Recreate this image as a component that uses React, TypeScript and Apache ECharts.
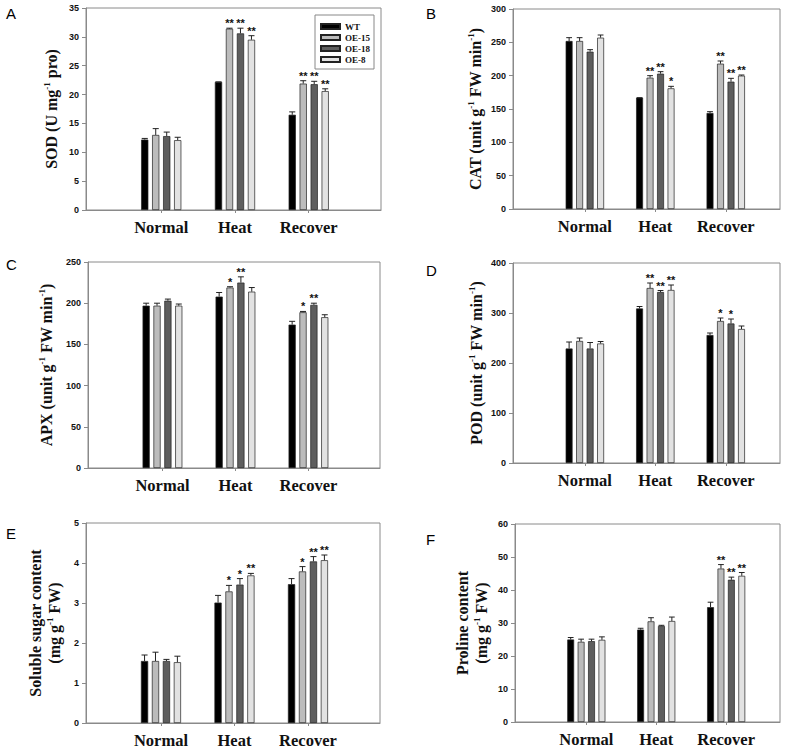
import React, { useEffect, useRef } from 'react';
import * as echarts from 'echarts';

const categories = ['Normal', 'Heat', 'Recover'];
const lines = ['WT', 'OE-15', 'OE-18', 'OE-8'];
const barColors = ['#000000', '#bcbcbc', '#5e5e5e', '#e2e2e2'];

// rows: WT, OE-15, OE-18, OE-8 ; columns: Normal, Heat, Recover
const sodMeans = [[12.2, 22.2, 16.5], [13.0, 31.4, 21.9], [12.8, 30.6, 21.8], [12.1, 29.5, 20.6]];
const sodErrs = [[0.2, 0.0, 0.5], [1.1, 0.1, 0.5], [0.7, 0.9, 0.5], [0.5, 0.7, 0.4]];
const sodStars = [['', '', ''], ['', '**', '**'], ['', '**', '**'], ['', '**', '**']];

const catMeans = [[252, 167, 144], [252, 197, 218], [236, 203, 191], [257, 181, 200]];
const catErrs = [[5, 0, 2], [5, 3, 4], [3, 3, 5], [4, 3, 1]];
const catStars = [['', '', ''], ['', '**', '**'], ['', '**', '**'], ['', '*', '**']];

const apxMeans = [[197, 208, 174], [197, 219, 189], [203, 225, 198], [197, 214, 183]];
const apxErrs = [[3, 5, 4], [3, 1, 1], [2, 7, 2], [2, 5, 3]];
const apxStars = [['', '', ''], ['', '*', '*'], ['', '**', '**'], ['', '', '']];

const podMeans = [[229, 309, 256], [244, 350, 284], [229, 342, 279], [239, 346, 268]];
const podErrs = [[13, 4, 4], [6, 10, 6], [12, 3, 9], [4, 10, 6]];
const podStars = [['', '', ''], ['', '**', '*'], ['', '**', '*'], ['', '**', '']];

const sugarMeans = [[1.55, 3.01, 3.47], [1.55, 3.29, 3.79], [1.55, 3.46, 4.04], [1.52, 3.69, 4.07]];
const sugarErrs = [[0.15, 0.18, 0.14], [0.22, 0.15, 0.12], [0.04, 0.15, 0.12], [0.15, 0.05, 0.13]];
const sugarStars = [['', '', ''], ['', '*', '*'], ['', '*', '**'], ['', '**', '**']];

const prolineMeans = [[25.0, 28.0, 34.8], [24.3, 30.5, 46.5], [24.5, 29.1, 43.1], [24.9, 30.6, 44.3]];
const prolineErrs = [[0.6, 0.4, 1.5], [0.8, 1.1, 1.2], [0.6, 0.2, 0.8], [0.9, 1.2, 1.0]];
const prolineStars = [['', '', ''], ['', '', '**'], ['', '', '**'], ['', '', '**']];

const yMaxes = [35, 300, 250, 400, 5, 60];
const yIntervals = [5, 50, 50, 100, 1, 10];
const panelLetters = ['A', 'B', 'C', 'D', 'E', 'F'];
const yTitles = [
  '{t|SOD (U mg}{s|-1}{t| pro)}',
  '{t|CAT (unit g}{s|-1}{t| FW min}{s|-1}{t|)}',
  '{t|APX (unit g}{s|-1}{t| FW min}{s|-1}{t|)}',
  '{t|POD (unit g}{s|-1}{t| FW min}{s|-1}{t|)}',
  '{t|Soluble sugar content}\n{t|(mg g}{s|-1}{t| FW)}',
  '{t|Proline content}\n{t|(mg g}{s|-1}{t| FW)}',
];

const SERIF = "'Liberation Serif', 'Times New Roman', serif";
const SANS = "'Liberation Sans', Arial, sans-serif";
const FRAME = '#8a8a8a';

// layout (pixels)
const layout = [
  { left: 86, top: 8, width: 295, height: 202, xmin: -0.02, xmax: 3.98, gap: 25, lx: 6, ly: 6 },
  { left: 513, top: 9, width: 267, height: 200, xmin: -0.02, xmax: 3.77, gap: 28, lx: 426, ly: 6 },
  { left: 88, top: 262, width: 292, height: 206, xmin: -0.02, xmax: 3.98, gap: 32, lx: 6, ly: 257 },
  { left: 513, top: 263, width: 267, height: 200, xmin: -0.02, xmax: 3.77, gap: 27, lx: 426, ly: 263 },
  { left: 86, top: 523, width: 294, height: 200, xmin: -0.02, xmax: 3.98, gap: 22, lx: 6, ly: 526 },
  { left: 515, top: 524, width: 265, height: 198, xmin: -0.02, xmax: 3.77, gap: 24, lx: 426, ly: 532 },
];

const BAR_FRAC = 0.098;
const GAP_FRAC = 0.52;

const panelsData = [
  { means: sodMeans, errs: sodErrs, stars: sodStars },
  { means: catMeans, errs: catErrs, stars: catStars },
  { means: apxMeans, errs: apxErrs, stars: apxStars },
  { means: podMeans, errs: podErrs, stars: podStars },
  { means: sugarMeans, errs: sugarErrs, stars: sugarStars },
  { means: prolineMeans, errs: prolineErrs, stars: prolineStars },
];

function buildOption() {
  const grid: any[] = [];
  const xAxis: any[] = [];
  const yAxis: any[] = [];
  const series: any[] = [];
  const graphic: any[] = [];

  panelsData.forEach((p, gi) => {
    const L = layout[gi];
    grid.push({
      left: L.left, top: L.top, width: L.width, height: L.height,
      show: true, borderColor: FRAME, borderWidth: 1, backgroundColor: 'transparent',
    });
    xAxis.push({
      type: 'value', gridIndex: gi, min: L.xmin, max: L.xmax,
      axisLine: { show: true, onZero: false, lineStyle: { color: FRAME, width: 1 } },
      axisTick: { show: true, customValues: [1, 2, 3], length: 3, lineStyle: { color: FRAME } },
      axisLabel: {
        show: true, customValues: [1, 2, 3],
        formatter: (v: number) => categories[Math.round(v) - 1] ?? '',
        fontFamily: SERIF, fontWeight: 'bold', fontSize: 16.5, color: '#111', margin: 9,
      },
      splitLine: { show: false },
    });
    yAxis.push({
      type: 'value', gridIndex: gi, min: 0, max: yMaxes[gi], interval: yIntervals[gi],
      axisLine: { show: true, onZero: false, lineStyle: { color: FRAME, width: 1 } },
      axisTick: { show: true, length: 4, lineStyle: { color: FRAME } },
      axisLabel: { fontFamily: SANS, fontWeight: 'bold', fontSize: 9, color: '#111', margin: 7 },
      splitLine: { show: false },
      name: yTitles[gi], nameLocation: 'middle', nameGap: L.gap,
      nameTextStyle: {
        rich: {
          t: { fontFamily: SERIF, fontWeight: 'bold', fontSize: 16, color: '#111', lineHeight: 19 },
          s: { fontFamily: SERIF, fontWeight: 'bold', fontSize: 9, color: '#111', lineHeight: 9, verticalAlign: 'top' },
        },
      },
    });
    lines.forEach((ln, si) => {
      series.push({
        type: 'bar', name: ln, xAxisIndex: gi, yAxisIndex: gi,
        data: categories.map((_, ci) => [ci + 1, p.means[si][ci]]),
        barWidth: (BAR_FRAC * 100) + '%', barGap: (GAP_FRAC * 100) + '%',
        itemStyle: { color: barColors[si], borderColor: '#222', borderWidth: 0.7 },
        silent: true,
      });
    });
    lines.forEach((ln, si) => {
      series.push({
        type: 'custom', xAxisIndex: gi, yAxisIndex: gi, z: 5, silent: true,
        data: categories.map((_, ci) => [ci + 1, p.means[si][ci], p.errs[si][ci], ci]),
        renderItem: (params: any, api: any) => {
          const x = api.value(0);
          const y = api.value(1);
          const e = api.value(2);
          const ci = api.value(3);
          const band = api.size([1, 0])[0];
          const bw = band * BAR_FRAC;
          const pitch = bw * (1 + GAP_FRAC);
          const base = api.coord([x, y]);
          const top = api.coord([x, y + e]);
          const cx = base[0] + (si - 1.5) * pitch;
          const cap = bw * 0.42;
          const children: any[] = [];
          if (e > 0) {
            children.push({ type: 'line', shape: { x1: cx, y1: base[1], x2: cx, y2: top[1] }, style: { stroke: '#222', lineWidth: 1 } });
          }
          children.push({ type: 'line', shape: { x1: cx - cap, y1: top[1], x2: cx + cap, y2: top[1] }, style: { stroke: '#222', lineWidth: 1 } });
          const s = p.stars[si][ci];
          if (s) {
            children.push({
              type: 'text', x: cx, y: top[1] - 5,
              style: { text: s, fontSize: 11, fontWeight: 'bold', fontFamily: SANS, fill: '#111', align: 'center', verticalAlign: 'middle' },
            });
          }
          return { type: 'group', children };
        },
      });
    });
    graphic.push({
      type: 'text', left: L.lx, top: L.ly,
      style: { text: panelLetters[gi], fontFamily: SANS, fontSize: 15, fill: '#000' },
    });
  });

  return {
    animation: false,
    backgroundColor: '#ffffff',
    grid, xAxis, yAxis, series, graphic,
    legend: {
      data: lines, left: 315, top: 15, orient: 'vertical',
      itemWidth: 19, itemHeight: 5, itemGap: 2, icon: 'rect',
      padding: [7, 4, 5, 5], borderColor: '#888', borderWidth: 1,
      selectedMode: false,
      textStyle: { fontFamily: SERIF, fontWeight: 'bold', fontSize: 9, color: '#111', lineHeight: 8 },
    },
  };
}

export default function App() {
  const ref = useRef<HTMLDivElement>(null);
  useEffect(() => {
    if (!ref.current) return;
    const chart = echarts.init(ref.current, undefined, { renderer: 'svg' });
    chart.setOption(buildOption() as any);
    return () => chart.dispose();
  }, []);
  return (
    <div
      ref={ref}
      style={{ position: 'fixed', left: 0, top: 0, width: 800, height: 753, background: '#fff' }}
    />
  );
}
